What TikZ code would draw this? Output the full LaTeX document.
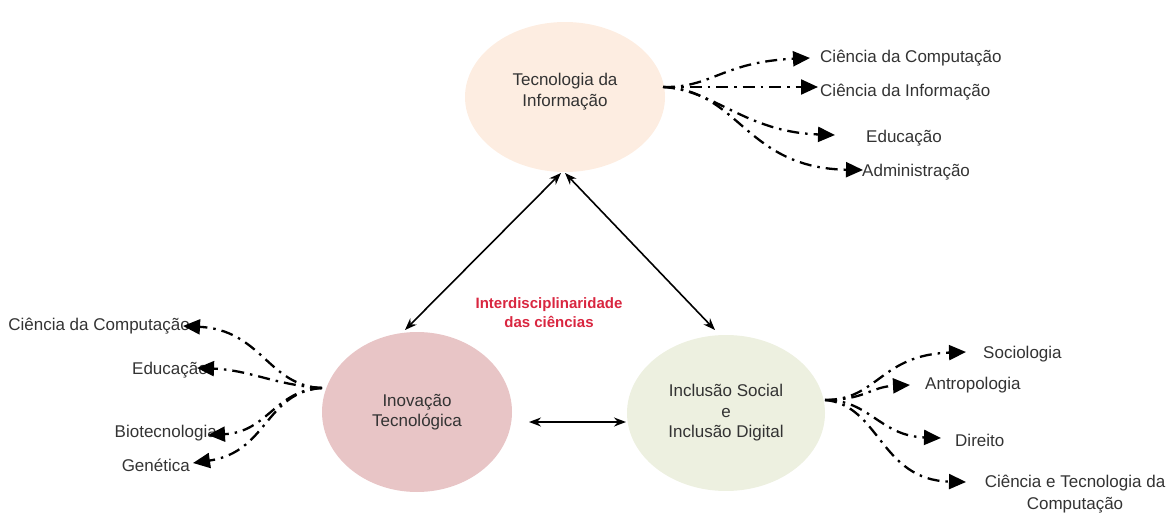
\documentclass[tikz,border=0pt]{standalone}
\usepackage{fontspec}
\setmainfont{Liberation Sans}
\usetikzlibrary{shapes.geometric,arrows.meta}
\definecolor{peach}{HTML}{FDEDE1}
\definecolor{rose}{HTML}{E8C5C6}
\definecolor{sage}{HTML}{EDF0E0}
\definecolor{txt}{HTML}{333333}
\definecolor{redt}{HTML}{D92640}
\begin{document}
\begin{tikzpicture}[x=1pt,y=-1pt,
  bubble/.style={ellipse,inner sep=0pt,align=center,text=txt,font=\fontsize{17}{20.5}\selectfont},
  lbl/.style={inner sep=0pt,text=txt,font=\fontsize{17}{22}\selectfont},
  fan/.style={line width=2.3pt,dash pattern=on 12pt off 6pt on 2.5pt off 6pt,-{Triangle[length=17pt,width=15pt]}},
  dbl/.style={line width=1.6pt,{Stealth[length=12pt,width=9pt]}-{Stealth[length=12pt,width=9pt]}}]
\useasboundingbox (0,0) rectangle (1167,516);
% ellipses
\node[bubble,fill=peach,minimum width=200pt,minimum height=150pt] (ti) at (565,97) {Tecnologia da\\Informação\\[-6pt]\mbox{}};
\node[bubble,fill=rose,minimum width=190pt,minimum height=160pt] (ino) at (417,412) {Inovação\\Tecnológica};
\node[bubble,fill=sage,minimum width=198pt,minimum height=156pt] (inc) at (726,413) {Inclusão Social\\e\\Inclusão Digital};
% center text
\node[align=center,text=redt,font=\fontsize{15}{19}\selectfont\bfseries] (inter) at (549,313) {Interdisciplinaridade\\das ciências};
% double arrows
\coordinate (tia) at (561,173);
\coordinate (tib) at (565,173);
\coordinate (inoa) at (405,330);
\coordinate (inca) at (715,330);
\draw[dbl] (tia) -- (inoa);
\draw[dbl] (tib) -- (inca);
\coordinate (hl) at (529,422);
\coordinate (hr) at (626,422);
\draw[dbl] (hl) -- (hr);
% top fan
\coordinate (o1) at (663,87);
\node[lbl,anchor=west] (t1) at (820,58) {Ciência da Computação};
\node[lbl,anchor=west] (t2) at (820,92) {Ciência da Informação};
\node[lbl,anchor=west] (t3) at (866,138) {Educação};
\node[lbl,anchor=west] (t4) at (862,172) {Administração};
\coordinate (p1) at (810,58);
\coordinate (p2) at (818,87);
\coordinate (p3) at (835,135);
\coordinate (p4) at (863,170);
\draw[fan] (o1) .. controls (712,88) and (722,62) .. (p1);
\draw[fan] (o1) -- (p2);
\draw[fan] (o1) .. controls (715,90) and (745,132) .. (p3);
\draw[fan] (o1) .. controls (740,90) and (745,168) .. (p4);
% left fan
\coordinate (o2) at (322,388);
\node[lbl,anchor=east] (l1) at (190,326) {Ciência da Computação};
\node[lbl,anchor=east] (l2) at (208,370) {Educação};
\node[lbl,anchor=east] (l3) at (217,433) {Biotecnologia};
\node[lbl,anchor=east] (l4) at (190,465) {Genética};
\coordinate (q1) at (183,326);
\coordinate (q2) at (197,368);
\coordinate (q3) at (208,435);
\coordinate (q4) at (193,463);
\draw[fan] (o2) .. controls (268,386) and (262,330) .. (q1);
\draw[fan] (o2) .. controls (275,385) and (250,370) .. (q2);
\draw[fan] (o2) .. controls (275,390) and (268,432) .. (q3);
\draw[fan] (o2) .. controls (265,392) and (268,452) .. (q4);
% right fan
\coordinate (o3) at (825,400);
\node[lbl,anchor=west] (r1) at (983,354) {Sociologia};
\node[lbl,anchor=west] (r2) at (925,385) {Antropologia};
\node[lbl,anchor=west] (r3) at (955,440) {Direito};
\node[lbl,align=center] (r4) at (1075,494) {Ciência e Tecnologia da\\Computação};
\coordinate (s1) at (966,352);
\coordinate (s2) at (910,385);
\coordinate (s3) at (941,438);
\coordinate (s4) at (966,482);
\draw[fan] (o3) .. controls (878,400) and (880,355) .. (s1);
\draw[fan] (o3) .. controls (865,400) and (870,387) .. (s2);
\draw[fan] (o3) .. controls (870,400) and (880,436) .. (s3);
\draw[fan] (o3) .. controls (880,405) and (880,480) .. (s4);
\end{tikzpicture}
\end{document}
